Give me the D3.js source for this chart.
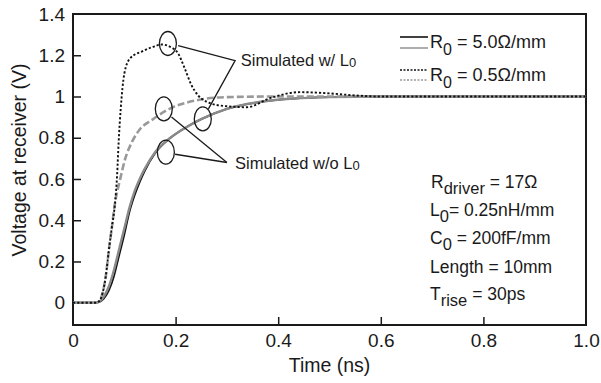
<!DOCTYPE html>
<html>
<head>
<meta charset="utf-8">
<script src="https://cdn.jsdelivr.net/npm/d3@7"></script>
<style>
  html, body { margin: 0; padding: 0; background: #fff; }
  svg { display: block; }
  text { font-family: "Liberation Sans", Arial, Helvetica, sans-serif; fill: #1a1a1a; }
</style>
</head>
<body>
<svg id="chart" width="601" height="383"></svg>
<script>
// ---------------- data ----------------
const xTickValues = [0, 0.2, 0.4, 0.6, 0.8, 1.0];
const xTickLabels = ["0", "0.2", "0.4", "0.6", "0.8", "1.0"];
const yTickValues = [0, 0.2, 0.4, 0.6, 0.8, 1.0, 1.2, 1.4];
const yTickLabels = ["0", "0.2", "0.4", "0.6", "0.8", "1", "1.2", "1.4"];

// R0 = 5.0 ohm/mm, simulated with L0 (black solid)
const tR5withL = [0, 0.04, 0.05, 0.06, 0.07, 0.08, 0.09, 0.10, 0.11, 0.12, 0.13, 0.14, 0.16, 0.19, 0.22, 0.25, 0.30, 0.36, 0.43, 0.50, 0.60, 0.70, 0.80, 0.90, 1.00];
const vR5withL = [0, 0, 0.003, 0.02, 0.06, 0.13, 0.23, 0.33, 0.44, 0.52, 0.585, 0.64, 0.725, 0.80, 0.85, 0.89, 0.94, 0.972, 0.99, 0.997, 1.0, 1.0, 1.0, 1.0, 1.0];

// R0 = 5.0 ohm/mm, simulated without L0 (gray solid)
const tR5noL = [0, 0.04, 0.05, 0.06, 0.07, 0.08, 0.09, 0.10, 0.11, 0.12, 0.13, 0.14, 0.16, 0.19, 0.22, 0.25, 0.30, 0.36, 0.43, 0.50, 0.60, 0.70, 0.80, 0.90, 1.00];
const vR5noL = [0, 0, 0.004, 0.03, 0.08, 0.16, 0.26, 0.36, 0.46, 0.54, 0.60, 0.65, 0.73, 0.80, 0.85, 0.89, 0.94, 0.972, 0.99, 0.997, 1.0, 1.0, 1.0, 1.0, 1.0];

// R0 = 0.5 ohm/mm, simulated with L0 (black dotted)
const tR05withL = [0, 0.045, 0.052, 0.058, 0.064, 0.070, 0.076, 0.082, 0.086, 0.089, 0.093, 0.100, 0.111, 0.134, 0.155, 0.173, 0.190, 0.205, 0.218, 0.230, 0.244, 0.265, 0.287, 0.339, 0.384, 0.442, 0.50, 0.55, 0.60, 0.70, 0.80, 0.90, 1.00];
const vR05withL = [0, 0, 0.01, 0.05, 0.13, 0.257, 0.37, 0.485, 0.62, 0.78, 0.94, 1.11, 1.184, 1.218, 1.24, 1.252, 1.24, 1.208, 1.135, 1.06, 1.005, 0.97, 0.956, 0.948, 0.992, 1.021, 1.015, 1.005, 1.0, 1.0, 1.0, 1.0, 1.0];

// R0 = 0.5 ohm/mm, simulated without L0 (gray dashed)
const tR05noL = [0, 0.045, 0.052, 0.058, 0.064, 0.070, 0.076, 0.082, 0.092, 0.102, 0.115, 0.130, 0.153, 0.192, 0.238, 0.30, 0.40, 0.50, 0.60, 0.70, 0.80, 0.90, 1.00];
const vR05noL = [0, 0, 0.01, 0.05, 0.13, 0.257, 0.37, 0.485, 0.60, 0.70, 0.78, 0.84, 0.885, 0.945, 0.98, 0.997, 1.0, 1.0, 1.0, 1.0, 1.0, 1.0, 1.0];

// ---------------- layout ----------------
const svg = d3.select("#chart");
const plot = { left: 73, right: 586, top: 14, bottom: 325 };
const x = d3.scaleLinear().domain([0, 1.0]).range([plot.left, plot.right]);
const y = d3.scaleLinear().domain([-0.108, 1.4]).range([plot.bottom, plot.top]);
const ink = "#1a1a1a";
const FONT = "'Liberation Sans', Arial, sans-serif";

// axes (ticks pointing inward)
const xAxis = d3.axisBottom(x).tickValues(xTickValues)
  .tickFormat((d, i) => xTickLabels[i]).tickSizeInner(-8).tickSizeOuter(0).tickPadding(9);
const gx = svg.append("g").attr("transform", `translate(0,${plot.bottom})`).call(xAxis);
gx.select(".domain").remove();
gx.selectAll(".tick line").attr("stroke", ink).attr("stroke-width", 1.5)
  .attr("display", d => (d === 0 || d === 1.0) ? "none" : null);
gx.selectAll(".tick text").attr("font-size", 19).attr("fill", ink).attr("font-family", FONT);

const yAxis = d3.axisLeft(y).tickValues(yTickValues)
  .tickFormat((d, i) => yTickLabels[i]).tickSizeInner(-8).tickSizeOuter(0).tickPadding(8);
const gy = svg.append("g").attr("transform", `translate(${plot.left},0)`).call(yAxis);
gy.select(".domain").remove();
gy.selectAll(".tick line").attr("stroke", ink).attr("stroke-width", 1.5)
  .attr("display", d => d === 1.4 ? "none" : null);
gy.selectAll(".tick text").attr("font-size", 19).attr("fill", ink).attr("font-family", FONT);

// frame
svg.append("rect")
  .attr("x", plot.left).attr("y", plot.top)
  .attr("width", plot.right - plot.left).attr("height", plot.bottom - plot.top)
  .attr("fill", "none").attr("stroke", ink).attr("stroke-width", 2);

// axis titles
svg.append("text").attr("x", (plot.left + plot.right) / 2).attr("y", 372)
  .attr("text-anchor", "middle").attr("font-size", 19.5).text("Time (ns)");
svg.append("text").attr("transform", "translate(26,160) rotate(-90)")
  .attr("text-anchor", "middle").attr("font-size", 19.5).text("Voltage at receiver (V)");

// ---------------- curves ----------------
const line = d3.line().x(d => x(d[0])).y(d => y(d[1])).curve(d3.curveMonotoneX);
const zipS = (t, v) => t.map((tt, i) => [tt, v[i]]);

const series = [
  { t: tR5withL, v: vR5withL, color: "#111", width: 1.8, dash: null },
  { t: tR5noL, v: vR5noL, color: "#8a8a8a", width: 2.4, dash: null },
  { t: tR05noL, v: vR05noL, color: "#999", width: 2.6, dash: "7,3" },
  { t: tR05withL, v: vR05withL, color: "#111", width: 1.9, dash: "2.2,2" }
];
const curves = svg.append("g");
series.forEach(s => {
  curves.append("path").datum(zipS(s.t, s.v))
    .attr("d", line).attr("fill", "none")
    .attr("stroke", s.color).attr("stroke-width", s.width)
    .attr("stroke-dasharray", s.dash)
    .attr("stroke-linejoin", "round");
});

// ---------------- annotations ----------------
const ann = svg.append("g").attr("stroke", ink).attr("stroke-width", 1.3).attr("fill", "none");
const ellipses = [[0.185, 1.257], [0.253, 0.891], [0.177, 0.94], [0.181, 0.73]];
ellipses.forEach(e => {
  ann.append("ellipse").attr("cx", x(e[0])).attr("cy", y(e[1])).attr("rx", 8.5).attr("ry", 12);
});
const leaders = [
  [[0.205, 1.247], [0.316, 1.174], [0.264, 0.94]],
  [[0.192, 0.90], [0.300, 0.680]],
  [[0.199, 0.72], [0.300, 0.680]]
];
leaders.forEach(pts => {
  ann.append("path").attr("d", d3.line().x(d => x(d[0])).y(d => y(d[1]))(pts));
});

function labelWithSub(g, px, py, main, sub, after, size, subSize, subDy) {
  const t = g.append("text").attr("x", px).attr("y", py).attr("font-size", size);
  t.append("tspan").text(main);
  t.append("tspan").attr("font-size", subSize).attr("dy", subDy).text(sub);
  if (after) t.append("tspan").attr("dy", -subDy).text(after);
  return t;
}
labelWithSub(svg, x(0.327), y(1.15), "Simulated w/ L", "0", null, 16.5, 13, 1);
labelWithSub(svg, x(0.316), y(0.648), "Simulated w/o L", "0", null, 16.5, 13, 1);

// ---------------- legend ----------------
const leg = svg.append("g");
const legendRows = [
  { y1: 37, y2: 48, dash: null, label: "5.0Ω/mm", ty: 48 },
  { y1: 70, y2: 80, dash: "2,1.5", label: "0.5Ω/mm", ty: 81 }
];
legendRows.forEach(r => {
  leg.append("line").attr("x1", 400).attr("x2", 428).attr("y1", r.y1).attr("y2", r.y1)
    .attr("stroke", "#111").attr("stroke-width", 1.6).attr("stroke-dasharray", r.dash);
  leg.append("line").attr("x1", 400).attr("x2", 428).attr("y1", r.y2).attr("y2", r.y2)
    .attr("stroke", "#999").attr("stroke-width", 1.6).attr("stroke-dasharray", r.dash);
  labelWithSub(leg, 430, r.ty, "R", "0", " = " + r.label, 18, 16, 7);
});

// ---------------- parameters ----------------
const par = svg.append("g");
labelWithSub(par, 431, 188, "R", "driver", " = 17Ω", 17.5, 16.5, 6);
labelWithSub(par, 430, 216, "L", "0", "= 0.25nH/mm", 17.5, 16.5, 6);
labelWithSub(par, 430, 244, "C", "0", " = 200fF/mm", 17.5, 16.5, 6);
par.append("text").attr("x", 430).attr("y", 273).attr("font-size", 17.5).text("Length = 10mm");
labelWithSub(par, 430, 300, "T", "rise", " = 30ps", 17.5, 16.5, 6);
</script>
</body>
</html>
